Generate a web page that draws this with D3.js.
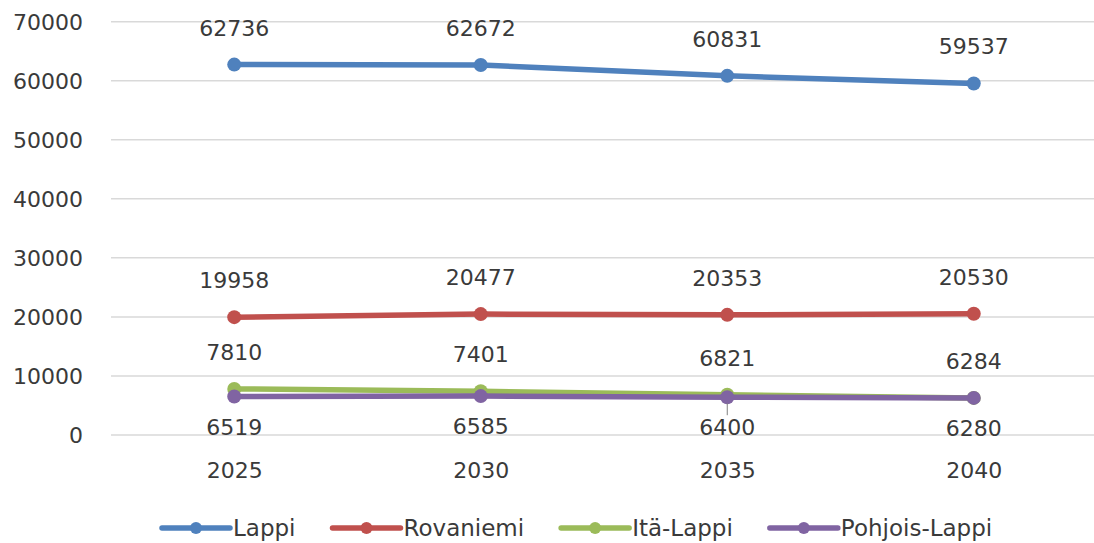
<!DOCTYPE html>
<html>
<head>
<meta charset="utf-8">
<script src="https://cdn.jsdelivr.net/npm/d3@7"></script>
<style>
  html, body { margin: 0; padding: 0; background: #ffffff; }
  svg { display: block; }
  text { font-family: "DejaVu Sans", sans-serif; fill: #3a3a3a; }
</style>
</head>
<body>
<svg id="chart" width="1094" height="543"></svg>
<script>
// Population projection by region
const years = ["2025", "2030", "2035", "2040"];
const seriesNames = ["Lappi", "Rovaniemi", "Itä-Lappi", "Pohjois-Lappi"];
const lappi = [62736, 62672, 60831, 59537];
const rovaniemi = [19958, 20477, 20353, 20530];
const itaLappi = [7810, 7401, 6821, 6284];
const pohjoisLappi = [6519, 6585, 6400, 6280];
const yTicks = [0, 10000, 20000, 30000, 40000, 50000, 60000, 70000];
const colors = ["#4f81bd", "#c0504d", "#9bbb59", "#8064a2"];
// where each series puts its value labels
const labelSide = ["above", "above", "above", "below"];

const seriesValues = [lappi, rovaniemi, itaLappi, pohjoisLappi];

const svg = d3.select("#chart");

const x = d3.scalePoint().domain(years).range([111, 1097]).padding(0.5);
const y = d3.scaleLinear().domain([0, 70000]).range([435, 21.7]);

// gridlines
svg.append("g")
  .selectAll("line")
  .data(yTicks)
  .join("line")
  .attr("x1", 111).attr("x2", 1097)
  .attr("y1", d => y(d)).attr("y2", d => y(d))
  .attr("stroke", "#d9d9d9").attr("stroke-width", 1.5);

// y axis labels
const yAxis = d3.axisLeft(y).tickValues(yTicks).tickSize(0).tickPadding(0).tickFormat(d3.format("d"));
svg.append("g")
  .attr("transform", "translate(83,0)")
  .call(yAxis)
  .call(g => g.select(".domain").remove())
  .call(g => g.selectAll("text")
    .attr("font-size", 22)
    .attr("font-family", "DejaVu Sans, sans-serif")
    .attr("fill", "#3a3a3a")
    .attr("dy", "0.36em"));

// x axis labels
const xAxis = d3.axisBottom(x).tickSize(0).tickPadding(0);
svg.append("g")
  .attr("transform", "translate(0,462)")
  .call(xAxis)
  .call(g => g.select(".domain").remove())
  .call(g => g.selectAll("text")
    .attr("font-size", 22)
    .attr("font-family", "DejaVu Sans, sans-serif")
    .attr("fill", "#3a3a3a")
    .attr("dy", "0.72em"));

const series = seriesNames.map((name, i) => ({
  name,
  color: colors[i],
  side: labelSide[i],
  points: years.map((yr, j) => ({ year: yr, value: seriesValues[i][j] }))
}));

const line = d3.line().x(d => x(d.year)).y(d => y(d.value));

// lines and markers
const sg = svg.append("g").selectAll("g").data(series).join("g");
sg.append("path")
  .attr("d", d => line(d.points))
  .attr("fill", "none")
  .attr("stroke", d => d.color)
  .attr("stroke-width", 5.5)
  .attr("stroke-linejoin", "round");
sg.selectAll("circle")
  .data(d => d.points.map(p => ({ ...p, color: d.color })))
  .join("circle")
  .attr("cx", d => x(d.year))
  .attr("cy", d => y(d.value))
  .attr("r", 7)
  .attr("fill", d => d.color);

// leader line for the 2035 label below the Pohjois-Lappi point
const leaderSeries = series[3];
const leaderPoint = leaderSeries.points[2];
svg.append("line")
  .attr("x1", x(leaderPoint.year)).attr("x2", x(leaderPoint.year))
  .attr("y1", y(leaderPoint.value) + 6).attr("y2", y(leaderPoint.value) + 18)
  .attr("stroke", "#808080").attr("stroke-width", 1);

// value labels
const lg = svg.append("g");
series.forEach(s => {
  lg.selectAll(null)
    .data(s.points)
    .join("text")
    .attr("x", d => x(d.year))
    .attr("y", d => s.side === "above" ? y(d.value) - 29 : y(d.value) + 38)
    .attr("text-anchor", "middle")
    .attr("font-size", 22)
    .text(d => d.value);
});

// legend
const legend = svg.append("g").attr("transform", "translate(162,528)");
let offset = 0;
series.forEach(s => {
  const item = legend.append("g").attr("transform", `translate(${offset},0)`);
  item.append("line")
    .attr("x1", 0).attr("x2", 68).attr("y1", 0).attr("y2", 0)
    .attr("stroke", s.color).attr("stroke-width", 5.5).attr("stroke-linecap", "round");
  item.append("circle").attr("cx", 34).attr("cy", 0).attr("r", 6).attr("fill", s.color);
  const t = item.append("text")
    .attr("x", 71).attr("y", 0).attr("dy", "0.36em")
    .attr("font-size", 23)
    .text(s.name);
  offset += 71 + t.node().getComputedTextLength() + 37;
});
</script>
</body>
</html>
